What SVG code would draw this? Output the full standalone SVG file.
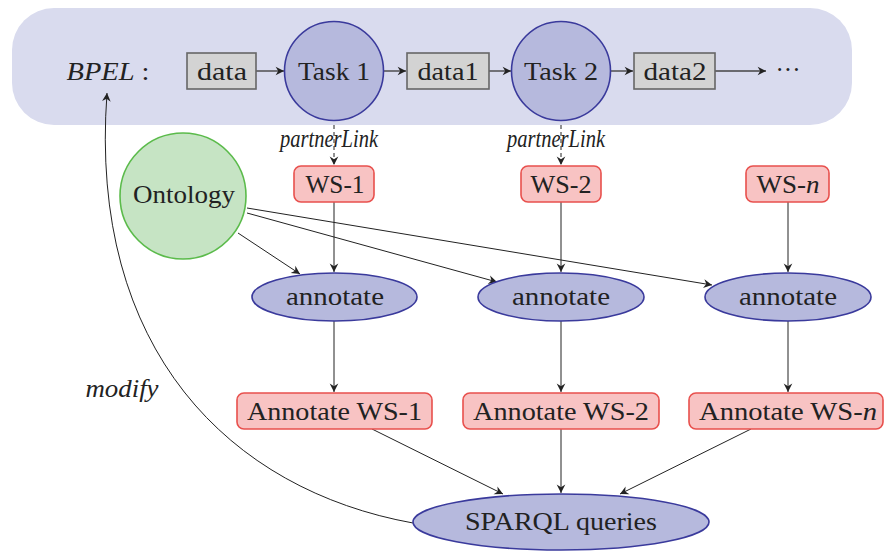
<svg xmlns="http://www.w3.org/2000/svg" width="884" height="551" viewBox="0 0 884 551">
<defs>
<marker id="arr" markerUnits="userSpaceOnUse" markerWidth="12" markerHeight="12" viewBox="-8 -5 10 10" refX="0" refY="0" orient="auto">
<path d="M0,0 L-7,-3.6 L-4.8,0 L-7,3.6 Z" fill="#222"/>
</marker>
</defs>
<style>
text{font-family:"Liberation Serif","DejaVu Serif",serif;fill:#222;font-size:25px;text-anchor:middle}
.it{font-style:italic}
.gray{fill:#d3d3d3;stroke:#666;stroke-width:1.6}
.task{fill:#b6b9dd;stroke:#3a3a9c;stroke-width:1.6}
.ws{fill:#f8c3c3;stroke:#e8504d;stroke-width:1.6}
.onto{fill:#c6e4c4;stroke:#5bbb4b;stroke-width:1.6}
.c{fill:none;stroke:#222;stroke-width:1;marker-end:url(#arr)}
.g{fill:none;stroke:#444;stroke-width:1.4;marker-end:url(#arr)}
</style>
<rect id="bpel-bg" x="12" y="8" width="840" height="117" rx="42" ry="42" fill="#d9dbee"/>
<g id="bpel-label"><text x="108" y="80" textLength="83" lengthAdjust="spacingAndGlyphs"><tspan class="it">BPEL</tspan> :</text></g>
<g id="connectors">
<line class="g" x1="256" y1="71" x2="284" y2="71"/>
<line class="g" x1="384" y1="71" x2="406" y2="71"/>
<line class="g" x1="489" y1="71" x2="511" y2="71"/>
<line class="g" x1="611" y1="71" x2="633" y2="71"/>
<line class="g" x1="715" y1="71" x2="766" y2="71"/>
<line class="c" x1="334" y1="125" x2="334" y2="165" stroke-dasharray="4,3"/>
<line class="c" x1="561" y1="125" x2="561" y2="165" stroke-dasharray="4,3"/>
<line class="c" x1="334" y1="202" x2="334" y2="272"/>
<line class="c" x1="561" y1="202" x2="561" y2="272"/>
<line class="c" x1="788" y1="202" x2="788" y2="272"/>
<line class="c" x1="238" y1="233" x2="300" y2="274"/>
<line class="c" x1="247" y1="213" x2="497" y2="282"/>
<line class="c" x1="247" y1="208" x2="712" y2="285"/>
<line class="c" x1="334" y1="321" x2="334" y2="392"/>
<line class="c" x1="561" y1="321" x2="561" y2="392"/>
<line class="c" x1="788" y1="321" x2="788" y2="392"/>
<line class="c" x1="372" y1="429" x2="503" y2="494"/>
<line class="c" x1="561" y1="429" x2="561" y2="493"/>
<line class="c" x1="751" y1="429" x2="620" y2="494"/>
<path class="c" d="M413,523 C230,490 88,350 107,93"/>
</g>
<g id="data"><rect class="gray" x="187" y="53" width="69" height="36"/><text x="222" y="80" textLength="50" lengthAdjust="spacingAndGlyphs">data</text></g>
<g id="task1"><circle class="task" cx="334" cy="71" r="49.5"/><text x="334" y="80" textLength="72" lengthAdjust="spacingAndGlyphs">Task 1</text></g>
<g id="data1"><rect class="gray" x="407" y="53" width="82" height="36"/><text x="448" y="80" textLength="61" lengthAdjust="spacingAndGlyphs">data1</text></g>
<g id="task2"><circle class="task" cx="561" cy="71" r="49.5"/><text x="561" y="80" textLength="74" lengthAdjust="spacingAndGlyphs">Task 2</text></g>
<g id="data2"><rect class="gray" x="634" y="53" width="81" height="36"/><text x="675" y="80" textLength="63" lengthAdjust="spacingAndGlyphs">data2</text></g>
<g id="dots"><text x="788" y="78">···</text></g>
<g id="pl1"><text class="it" x="329" y="147" font-size="17" textLength="98" lengthAdjust="spacingAndGlyphs">partnerLink</text></g>
<g id="pl2"><text class="it" x="556" y="147" font-size="17" textLength="98" lengthAdjust="spacingAndGlyphs">partnerLink</text></g>
<g id="ws1"><rect class="ws" x="294" y="166" width="80" height="36" rx="7"/><text x="335" y="193" textLength="59" lengthAdjust="spacingAndGlyphs">WS-1</text></g>
<g id="ws2"><rect class="ws" x="521" y="166" width="80" height="36" rx="7"/><text x="561" y="193" textLength="61" lengthAdjust="spacingAndGlyphs">WS-2</text></g>
<g id="wsn"><rect class="ws" x="746" y="166" width="83" height="36" rx="7"/><text x="788" y="193" textLength="63" lengthAdjust="spacingAndGlyphs">WS-<tspan class="it">n</tspan></text></g>
<g id="ontology"><circle class="onto" cx="183" cy="196" r="63"/><text x="184" y="203" textLength="102" lengthAdjust="spacingAndGlyphs">Ontology</text></g>
<g id="annotate1"><ellipse class="task" cx="334.5" cy="297" rx="82.5" ry="24"/><text x="335" y="305" textLength="98" lengthAdjust="spacingAndGlyphs">annotate</text></g>
<g id="annotate2"><ellipse class="task" cx="561" cy="297" rx="83" ry="24"/><text x="561" y="305" textLength="98" lengthAdjust="spacingAndGlyphs">annotate</text></g>
<g id="annotate3"><ellipse class="task" cx="788" cy="297" rx="83" ry="24"/><text x="788" y="305" textLength="98" lengthAdjust="spacingAndGlyphs">annotate</text></g>
<g id="aws1"><rect class="ws" x="237" y="393" width="195" height="36" rx="7"/><text x="334.5" y="420" textLength="175" lengthAdjust="spacingAndGlyphs">Annotate WS-1</text></g>
<g id="aws2"><rect class="ws" x="463" y="393" width="196" height="36" rx="7"/><text x="561" y="420" textLength="176" lengthAdjust="spacingAndGlyphs">Annotate WS-2</text></g>
<g id="awsn"><rect class="ws" x="689" y="393" width="194" height="36" rx="7"/><text x="788" y="420" textLength="178" lengthAdjust="spacingAndGlyphs">Annotate WS-<tspan class="it">n</tspan></text></g>
<g id="sparql"><ellipse class="task" cx="561" cy="522" rx="148" ry="28"/><text x="561" y="530" textLength="192" lengthAdjust="spacingAndGlyphs">SPARQL queries</text></g>
<g id="modify"><text class="it" x="122" y="397" textLength="73" lengthAdjust="spacingAndGlyphs">modify</text></g>
</svg>
